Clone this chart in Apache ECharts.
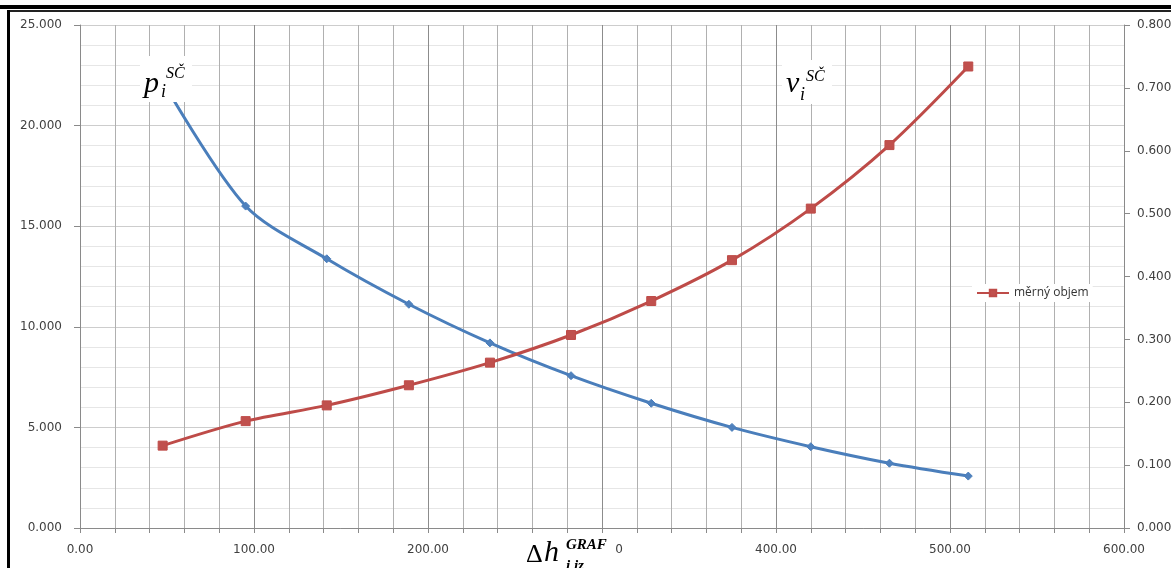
<!DOCTYPE html>
<html>
<head>
<meta charset="utf-8">
<script src="https://cdn.jsdelivr.net/npm/echarts@6/dist/echarts.min.js"></script>
<style>
  html, body { margin: 0; padding: 0; background: #fff; }
  #chart { width: 1171px; height: 568px; }
</style>
</head>
<body>
<div id="chart"></div>
<script>
// Δh (osa x)
const dh = [47.5, 95.2, 141.8, 189.0, 235.6, 282.2, 328.3, 374.7, 420.0, 465.2, 510.5];
// tlak p_i (levá osa)
const tlak = [22.2, 16.0, 13.38, 11.12, 9.2, 7.57, 6.2, 5.0, 4.04, 3.22, 2.58];
// měrný objem v_i (pravá osa)
const objem = [0.131, 0.170, 0.195, 0.227, 0.263, 0.307, 0.361, 0.426, 0.508, 0.609, 0.734];

let myChart = echarts.init(document.getElementById("chart"));
const labelFont = "'Open Sans', 'Liberation Sans', sans-serif";
const tickFont = "'DejaVu Sans', sans-serif";
const mathFont = "'Liberation Serif', 'DejaVu Serif', serif";

// jeden kus textu / obdélník nad grafem
const txt = (x, y, text, font) => ({
  type: "text", z: 100, x: x, y: y,
  style: { text: text, font: font, fill: "#000", verticalAlign: "bottom" },
});
const box = (x, y, w, h) => ({
  type: "rect", z: 99, shape: { x: x, y: y, width: w, height: h }, style: { fill: "#fff" },
});

let option = {
  animation: false,
  backgroundColor: "#fff",
  grid: { left: 80, right: 47, top: 25, bottom: 40, containLabel: false, outerBoundsMode: "none" },
  legend: {
    data: ["měrný objem"],
    left: 972,
    top: 284,
    backgroundColor: "#fff",
    padding: [3, 4],
    itemWidth: 32,
    itemHeight: 8,
    itemGap: 4,
    textStyle: { fontSize: 12, color: "#333", fontFamily: labelFont },
  },
  xAxis: {
    type: "value",
    min: 0,
    max: 600,
    interval: 20,
    axisLine: { show: true, lineStyle: { color: "#8a8a8a", width: 1 } },
    axisTick: { show: true, length: 5, lineStyle: { color: "#8a8a8a" } },
    axisLabel: {
      margin: 16,
      fontSize: 12,
      color: "#404040",
      fontFamily: tickFont,
      formatter: (v) => (v % 100 === 0 ? v.toFixed(2) : ""),
    },
    splitLine: {
      show: true,
      lineStyle: { color: ["#8c8c8c", "#b0b0b0", "#b0b0b0", "#b0b0b0", "#b0b0b0"], width: 1 },
    },
  },
  yAxis: [
    {
      type: "value",
      min: 0,
      max: 25,
      interval: 5,
      axisLine: { show: true, lineStyle: { color: "#8a8a8a" } },
      axisTick: { show: true, length: 6, lineStyle: { color: "#8a8a8a" } },
      axisLabel: {
        margin: 18,
        fontSize: 12,
        color: "#404040",
        fontFamily: tickFont,
        formatter: (v) => v.toFixed(3),
      },
      splitLine: { show: true, lineStyle: { color: "#cdcdcd" } },
      minorTick: { show: false, splitNumber: 5 },
      minorSplitLine: { show: true, lineStyle: { color: "#e6e6e6" } },
    },
    {
      type: "value",
      min: 0,
      max: 0.8,
      interval: 0.1,
      position: "right",
      axisLine: { show: true, lineStyle: { color: "#8a8a8a" } },
      axisTick: { show: true, length: 6, lineStyle: { color: "#8a8a8a" } },
      axisLabel: {
        margin: 13,
        fontSize: 12,
        color: "#404040",
        fontFamily: tickFont,
        formatter: (v) => v.toFixed(3),
      },
      splitLine: { show: false },
    },
  ],
  series: [
    {
      name: "tlak",
      type: "line",
      yAxisIndex: 0,
      smooth: 0.3,
      data: dh.map((x, i) => [x, tlak[i]]),
      symbol: "diamond",
      symbolSize: 8,
      lineStyle: { color: "#4A7EBB", width: 3 },
      itemStyle: { color: "#4F81BD", borderColor: "#4A7EBB", borderWidth: 1 },
    },
    {
      name: "měrný objem",
      type: "line",
      yAxisIndex: 1,
      smooth: 0.3,
      data: dh.map((x, i) => [x, objem[i]]),
      symbol: "rect",
      symbolSize: 9,
      lineStyle: { color: "#BE4B48", width: 3 },
      itemStyle: { color: "#C0504D", borderColor: "#BE4B48", borderWidth: 1 },
    },
  ],
  graphic: [
    // rámeček
    { type: "rect", z: 100, shape: { x: 0, y: 5, width: 1171, height: 4 }, style: { fill: "#000" } },
    { type: "rect", z: 100, shape: { x: 8, y: 10, width: 1163, height: 2 }, style: { fill: "#222" } },
    { type: "rect", z: 100, shape: { x: 7, y: 10, width: 3, height: 558 }, style: { fill: "#000" } },
    // p_i^SČ
    box(140, 56, 52, 46),
    txt(144, 99, "p", "italic 30px " + mathFont),
    txt(161, 101, "i", "italic 18px " + mathFont),
    txt(166, 82, "SČ", "italic 16px " + mathFont),
    // v_i^SČ
    box(782, 60, 50, 44),
    txt(786, 99, "v", "italic 30px " + mathFont),
    txt(800, 104, "i", "italic 18px " + mathFont),
    txt(806, 85, "SČ", "italic 16px " + mathFont),
    // Δh_{i,iz}^GRAF
    box(521, 533, 95, 35),
    txt(526, 568, "Δ", "26px " + mathFont),
    txt(544, 568, "h", "italic 30px " + mathFont),
    txt(566, 553, "GRAF", "italic bold 15px " + mathFont),
    txt(566, 574, "i,iz", "italic bold 15px " + mathFont),
  ],
};
myChart.setOption(option, true);
</script>
</body>
</html>
